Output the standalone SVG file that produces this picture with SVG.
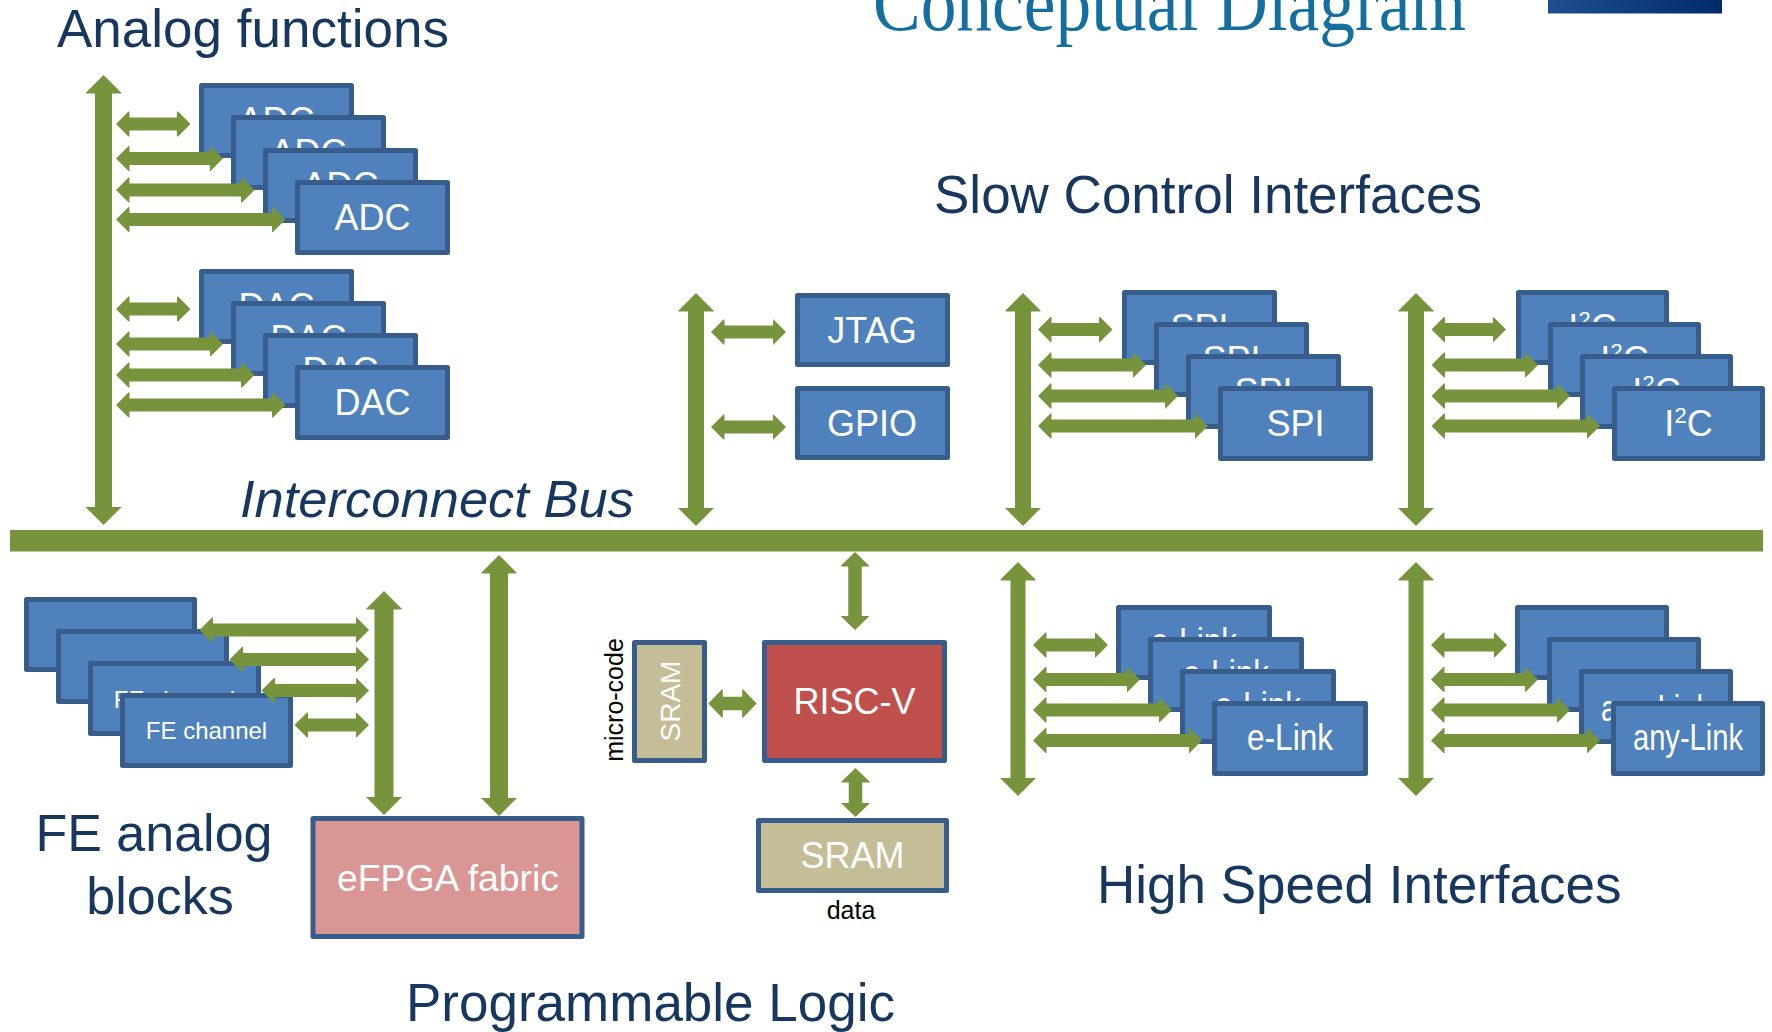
<svg xmlns="http://www.w3.org/2000/svg" width="1772" height="1032" viewBox="0 0 1772 1032">
<defs>
<style>
.box rect{stroke:#385D8A;stroke-width:5;stroke-linejoin:round}
.blue rect{fill:#4F81BD}
.lbl{font-family:"Liberation Sans",Arial,sans-serif;fill:#FFFFFF;text-anchor:middle;font-size:36px}
.fe{font-size:24px}
.ttl{font-family:"Liberation Sans",Arial,sans-serif;fill:#17375E;font-size:53px}
.blk{font-family:"Liberation Sans",Arial,sans-serif;fill:#000000;font-size:25px;text-anchor:middle}
.conn line{stroke:#77933C;fill:none}
.s{stroke-width:13;marker-start:url(#hS);marker-end:url(#hS)}
.v{marker-start:url(#hV);marker-end:url(#hV)}
.r{stroke-width:13.5;marker-start:url(#hR);marker-end:url(#hR)}
</style>
<linearGradient id="bar" x1="0" y1="0" x2="1" y2="0">
<stop offset="0" stop-color="#1F4F8F"/>
<stop offset="1" stop-color="#002B6A"/>
</linearGradient>
<marker id="hS" markerUnits="userSpaceOnUse" viewBox="-1 -13 14 26" refX="0" refY="0" markerWidth="14" markerHeight="26" orient="auto-start-reverse">
<path d="M-1,-12.5 L0,-12.5 L12.5,0 L0,12.5 L-1,12.5 z" fill="#77933C"/>
</marker>
<marker id="hV" markerUnits="userSpaceOnUse" viewBox="-1 -18 19 36" refX="0" refY="0" markerWidth="19" markerHeight="36" orient="auto-start-reverse">
<path d="M-1,-17.5 L0,-17.5 L17.5,0 L0,17.5 L-1,17.5 z" fill="#77933C"/>
</marker>
<marker id="hR" markerUnits="userSpaceOnUse" viewBox="-1 -14.5 15 29" refX="0" refY="0" markerWidth="15" markerHeight="29" orient="auto-start-reverse">
<path d="M-1,-14 L0,-14 L13.5,0 L0,14 L-1,14 z" fill="#77933C"/>
</marker>
</defs>
<rect x="0" y="0" width="1772" height="1032" fill="#FFFFFF"/>

<g id="header">
<text x="873" y="30" font-family="'Liberation Serif','Times New Roman',serif" font-size="80" fill="#146EA0" textLength="593" lengthAdjust="spacingAndGlyphs">Conceptual Diagram</text>
<rect x="1548" y="0" width="174" height="13.5" fill="url(#bar)"/>
</g>

<g id="titles">
<text class="ttl" x="57" y="47">Analog functions</text>
<text class="ttl" x="934" y="213">Slow Control Interfaces</text>
<text class="ttl" x="240" y="517" style="font-style:italic;font-size:52.5px">Interconnect Bus</text>
<text class="ttl" x="154" y="851" style="font-size:52px" text-anchor="middle">FE analog</text>
<text class="ttl" x="160" y="914" style="font-size:52px" text-anchor="middle">blocks</text>
<text class="ttl" x="406" y="1021">Programmable Logic</text>
<text class="ttl" x="1097" y="903">High Speed Interfaces</text>
</g>

<g id="interconnect-bus">
<rect x="10" y="530" width="1753" height="21.5" fill="#77933C"/>
</g>

<g id="adc-stack" class="box blue">
<rect x="201.5" y="85.5" width="150" height="70"/><text class="lbl" x="276.5" y="133">ADC</text>
<rect x="233.5" y="117.5" width="150" height="70"/><text class="lbl" x="308.5" y="165">ADC</text>
<rect x="265.5" y="150.5" width="150" height="70"/><text class="lbl" x="340.5" y="198">ADC</text>
<rect x="297.5" y="182.5" width="150" height="70"/><text class="lbl" x="372.5" y="230">ADC</text>
</g>

<g id="dac-stack" class="box blue">
<rect x="201.5" y="271.5" width="150" height="70"/><text class="lbl" x="276.5" y="319">DAC</text>
<rect x="233.5" y="303.5" width="150" height="70"/><text class="lbl" x="308.5" y="351">DAC</text>
<rect x="265.5" y="335.5" width="150" height="70"/><text class="lbl" x="340.5" y="383">DAC</text>
<rect x="297.5" y="367.5" width="150" height="70"/><text class="lbl" x="372.5" y="415">DAC</text>
</g>

<g id="jtag" class="box blue">
<rect x="797.5" y="295.5" width="150" height="69"/><text class="lbl" x="872" y="343">JTAG</text>
</g>
<g id="gpio" class="box blue">
<rect x="797.5" y="388.5" width="150" height="69"/><text class="lbl" x="872" y="436">GPIO</text>
</g>

<g id="spi-stack" class="box blue">
<rect x="1124.5" y="292.5" width="150" height="70"/><text class="lbl" x="1199.5" y="340">SPI</text>
<rect x="1156.5" y="324.5" width="150" height="70"/><text class="lbl" x="1231.5" y="372">SPI</text>
<rect x="1188.5" y="356.5" width="150" height="70"/><text class="lbl" x="1263.5" y="404">SPI</text>
<rect x="1220.5" y="388.5" width="150" height="70"/><text class="lbl" x="1295.5" y="436">SPI</text>
</g>

<g id="i2c-stack" class="box blue">
<rect x="1518.5" y="292.5" width="148" height="70"/><text class="lbl" x="1592.5" y="340">I<tspan style="font-size:22px" dy="-13">2</tspan><tspan dy="13">C</tspan></text>
<rect x="1550.5" y="324.5" width="148" height="70"/><text class="lbl" x="1624.5" y="372">I<tspan style="font-size:22px" dy="-13">2</tspan><tspan dy="13">C</tspan></text>
<rect x="1582.5" y="356.5" width="148" height="70"/><text class="lbl" x="1656.5" y="404">I<tspan style="font-size:22px" dy="-13">2</tspan><tspan dy="13">C</tspan></text>
<rect x="1614.5" y="388.5" width="148" height="70"/><text class="lbl" x="1688.5" y="436">I<tspan style="font-size:22px" dy="-13">2</tspan><tspan dy="13">C</tspan></text>
</g>

<g id="fe-stack" class="box blue">
<rect x="26.5" y="599.5" width="168" height="70"/>
<rect x="58.5" y="631.5" width="168" height="70"/>
<rect x="90.5" y="663.5" width="168" height="70"/><text class="lbl fe" x="174.5" y="708">FE channel</text>
<rect x="122.5" y="695.5" width="168" height="70"/><text class="lbl fe" x="206.5" y="739">FE channel</text>
</g>

<g id="efpga" class="box">
<rect x="313" y="818.5" width="269" height="118" fill="#D99694"/>
<text class="lbl" x="448" y="891" style="font-size:37px" textLength="222" lengthAdjust="spacingAndGlyphs">eFPGA fabric</text>
</g>

<g id="sram-microcode" class="box">
<rect x="634.5" y="642.5" width="70" height="118" fill="#C4BD97"/>
<text class="lbl" transform="translate(680,701) rotate(-90)" x="0" y="0" style="font-size:28px">SRAM</text>
<text class="blk" transform="translate(623,700) rotate(-90)" x="0" y="0">micro-code</text>
</g>

<g id="risc-v" class="box">
<rect x="764.5" y="642.5" width="180" height="118" fill="#C0504D"/>
<text class="lbl" x="854.5" y="714">RISC-V</text>
</g>

<g id="sram-data" class="box">
<rect x="758.5" y="820.5" width="188" height="70" fill="#C4BD97"/>
<text class="lbl" x="852.5" y="868">SRAM</text>
<text class="blk" x="851" y="919">data</text>
</g>

<g id="elink-stack" class="box blue">
<rect x="1118.5" y="607.5" width="151" height="70"/><text class="lbl" x="1194" y="654" textLength="86" lengthAdjust="spacingAndGlyphs">e-Link</text>
<rect x="1150.5" y="639.5" width="151" height="70"/><text class="lbl" x="1226" y="686" textLength="86" lengthAdjust="spacingAndGlyphs">e-Link</text>
<rect x="1182.5" y="671.5" width="151" height="70"/><text class="lbl" x="1258" y="718" textLength="86" lengthAdjust="spacingAndGlyphs">e-Link</text>
<rect x="1214.5" y="703.5" width="151" height="70"/><text class="lbl" x="1290" y="750" textLength="86" lengthAdjust="spacingAndGlyphs">e-Link</text>
</g>

<g id="anylink-stack" class="box blue">
<rect x="1517.5" y="607.5" width="149" height="70"/>
<rect x="1549.5" y="639.5" width="149" height="70"/>
<rect x="1581.5" y="671.5" width="149" height="70"/><text class="lbl" x="1656" y="721" textLength="110" lengthAdjust="spacingAndGlyphs">any-Link</text>
<rect x="1613.5" y="703.5" width="149" height="70"/><text class="lbl" x="1688" y="750" textLength="110" lengthAdjust="spacingAndGlyphs">any-Link</text>
</g>

<g id="connectors" class="conn">
<line class="v" x1="103.5" y1="92.5" x2="103.5" y2="507.5" stroke-width="17"/>
<line class="s" x1="128.5" y1="124" x2="178" y2="124"/>
<line class="s" x1="128.5" y1="158.5" x2="210.5" y2="158.5"/>
<line class="s" x1="128.5" y1="190" x2="242" y2="190"/>
<line class="s" x1="128.5" y1="219.5" x2="273" y2="219.5"/>
<line class="s" x1="128.5" y1="309" x2="178" y2="309"/>
<line class="s" x1="128.5" y1="344" x2="210.5" y2="344"/>
<line class="s" x1="128.5" y1="375" x2="242" y2="375"/>
<line class="s" x1="128.5" y1="405" x2="273" y2="405"/>

<line class="v" x1="696" y1="310.5" x2="696" y2="508.5" stroke-width="16"/>
<line class="s" x1="723.5" y1="332" x2="773.5" y2="332"/>
<line class="s" x1="723.5" y1="427" x2="773.5" y2="427"/>

<line class="v" x1="1023" y1="310.5" x2="1023" y2="508.5" stroke-width="16"/>
<line class="s" x1="1050.5" y1="329.5" x2="1100" y2="329.5"/>
<line class="s" x1="1050.5" y1="365" x2="1133.5" y2="365"/>
<line class="s" x1="1050.5" y1="396" x2="1165.5" y2="396"/>
<line class="s" x1="1050.5" y1="426" x2="1195.5" y2="426"/>

<line class="v" x1="1416" y1="310.5" x2="1416" y2="508.5" stroke-width="16"/>
<line class="s" x1="1444" y1="329.5" x2="1493.5" y2="329.5"/>
<line class="s" x1="1444" y1="365" x2="1525.5" y2="365"/>
<line class="s" x1="1444" y1="396" x2="1557.5" y2="396"/>
<line class="s" x1="1444" y1="426" x2="1587.5" y2="426"/>

<line class="v" x1="384" y1="608.5" x2="384" y2="797.5" stroke-width="19"/>
<line class="s" x1="212" y1="630" x2="356.5" y2="630"/>
<line class="s" x1="242" y1="659.5" x2="356.5" y2="659.5"/>
<line class="s" x1="274" y1="690.5" x2="356.5" y2="690.5"/>
<line class="s" x1="307" y1="725" x2="356.5" y2="725"/>

<line class="v" x1="499" y1="572.5" x2="499" y2="798.5" stroke-width="18"/>

<line class="r" x1="855" y1="565.5" x2="855" y2="616.5"/>
<line class="r" x1="855.5" y1="781.5" x2="855.5" y2="803.5"/>
<line class="r" x1="721.8" y1="703.5" x2="743.2" y2="703.5" stroke-width="14"/>

<line class="v" x1="1018" y1="579.5" x2="1018" y2="778.5" stroke-width="15"/>
<line class="s" x1="1045.5" y1="645" x2="1095.5" y2="645"/>
<line class="s" x1="1045.5" y1="679.5" x2="1127.5" y2="679.5"/>
<line class="s" x1="1045.5" y1="710" x2="1159.5" y2="710"/>
<line class="s" x1="1045.5" y1="740.5" x2="1189.5" y2="740.5"/>

<line class="v" x1="1416" y1="579.5" x2="1416" y2="778.5" stroke-width="15"/>
<line class="s" x1="1443.5" y1="645" x2="1494.5" y2="645"/>
<line class="s" x1="1443.5" y1="679.5" x2="1525.5" y2="679.5"/>
<line class="s" x1="1443.5" y1="710" x2="1557.5" y2="710"/>
<line class="s" x1="1443.5" y1="740.5" x2="1587.5" y2="740.5"/>
</g>
</svg>
